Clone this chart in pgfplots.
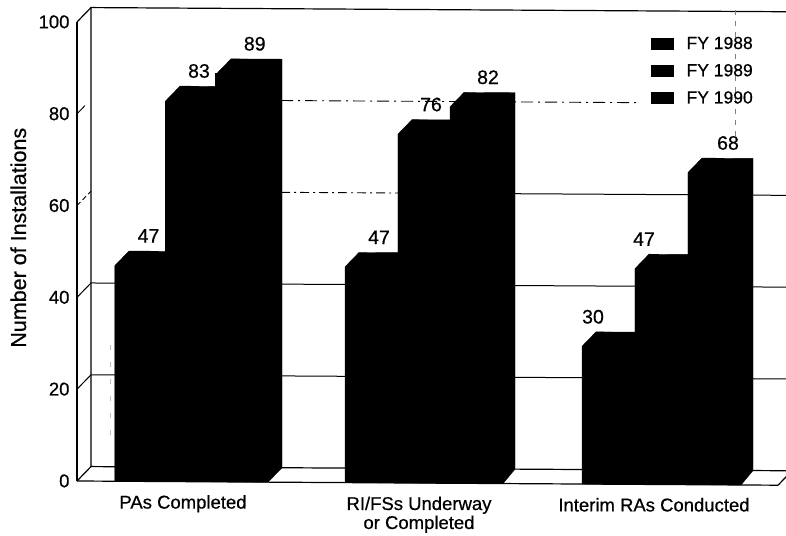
\documentclass[border=0pt]{standalone}
\usepackage{fontspec}
\setmainfont{Liberation Sans}[FakeBold=0.6]
\usepackage{pgfplots}
\usepackage{pgfplotstable}
\pgfplotsset{compat=1.18}
\pgfplotstableread{
x y dx
141 47 7.5
371.5 47 7.5
608.5 30 -15.5
}\fyA
\pgfplotstableread{
x y dx
191.5 83 7.5
424 76 7
661 47 -17
}\fyB
\pgfplotstableread{
x y dx
241.75 89 13
477 82 11
714 68 14
}\fyC
\pgfplotsset{
  fybar/.style={ybar,fill=black,draw=black,bar shift=0pt,bar width=52.5,
    visualization depends on={\thisrow{dx}\as\dx},
    nodes near coords,
    nodes near coords style={font=\fontsize{19.5}{21}\selectfont,anchor=base,yshift=23pt,xshift=\dx pt}},
  wall/.style={forget plot,black,line width=1.2pt,no marks},
  grd/.style={forget plot,black,line width=1pt,no marks},
  sil/.style={forget plot,fill=black,draw=black,no marks},
}
\begin{document}
\begin{tikzpicture}[x=1pt,y=1pt]
\useasboundingbox (-77,-54) rectangle (709,481);
\begin{axis}[
  at={(0pt,-4.2pt)},anchor=south west,
  x={(1pt,-0.006pt)},y={(0pt,4.59pt)},
  xmin=77,xmax=778,ymin=0,ymax=100,
  clip=false,
  axis lines*=left,
  axis line style={-,line width=1.2pt,black},
  tick style={draw=none},
  ytick={0,20,40,60,80,100},
  xtick={183,419,654},
  xticklabels={PAs Completed,{RI/FSs Underway\\or Completed},Interim RAs Conducted},
  x tick label style={align=center,font=\fontsize{18.5}{19}\selectfont,yshift=-10pt},
  y tick label style={font=\fontsize{18.5}{21}\selectfont,xshift=-4pt},
  /pgf/number format/assume math mode=true,
  ylabel={Number of Installations},
  ylabel style={font=\fontsize{21.5}{24}\selectfont,at={(rel axis cs:0,0.53)},anchor=base,yshift=51pt},
  legend style={at={(axis cs:651,98)},anchor=north west,draw=none,fill=none,
    font=\fontsize{17.5}{19}\selectfont,row sep=9.5pt,inner sep=0pt},
  legend cell align=left,
  legend image code/.code={\fill[black] (0pt,-5.5pt) rectangle (22pt,5.5pt);},
]
% back wall and grid
\addplot[wall] coordinates {(77,100)(91,103.16)(786,103.16)};
\addplot[wall] coordinates {(91,103.16)(91,3.16)(792,3.16)};
\addplot[wall] coordinates {(77,0)(91,3.16)};
\addplot[wall] coordinates {(778,0)(792,3.16)};
\addplot[grd] coordinates {(77,20)(91,23.16)(786,23.16)};
\addplot[grd] coordinates {(77,40)(91,43.16)(786,43.16)};
\addplot[grd] coordinates {(515,63.16)(786,63.16)};
\addplot[grd,line width=.9pt,dash pattern=on 9pt off 4pt on 2pt off 4pt] coordinates {(281,63.16)(515,63.16)};
\addplot[grd,line width=.9pt,dash pattern=on 5pt off 3pt] coordinates {(77,60)(91,63.16)};
\addplot[grd,line width=.9pt,dash pattern=on 12pt off 5pt on 2pt off 5pt] coordinates {(281,83.16)(640,83.16)};
\addplot[grd,line width=.9pt] coordinates {(77,80)(85,81.8)};
% faint scanning marks
\addplot[grd,gray,line width=.7pt,dash pattern=on 5pt off 6pt] coordinates {(735,103.5)(735,75)};
\addplot[grd,lightgray,line width=.6pt,dash pattern=on 5pt off 12pt] coordinates {(110,10)(110,30)};
% bar depth
\addplot[sil] coordinates {(115,47)(129,50.16)(166,50.16)(166,83)(180,86.16)(217,86.16)(217,89)(231,92.16)(282,92.16)(282,3.16)(268,0)(115,0)} -- cycle;
\addplot[sil] coordinates {(345,47)(359,50.16)(398,50.16)(398,76)(412,79.16)(450,79.16)(450,82)(464,85.16)(515,85.16)(515,3.16)(503,0)(345,0)} -- cycle;
\addplot[sil] coordinates {(582,30)(596,33.16)(635,33.16)(635,47)(649,50.16)(688,50.16)(688,68)(702,71.16)(753,71.16)(753,3.16)(741,0)(582,0)} -- cycle;
% bars
\addplot[fybar] table[x=x,y=y] {\fyA};
\addplot[fybar] table[x=x,y=y] {\fyB};
\addplot[fybar] table[x=x,y=y] {\fyC};
\legend{\hspace{11pt}FY 1988,\hspace{11pt}FY 1989,\hspace{11pt}FY 1990}
\end{axis}
\end{tikzpicture}
\end{document}
